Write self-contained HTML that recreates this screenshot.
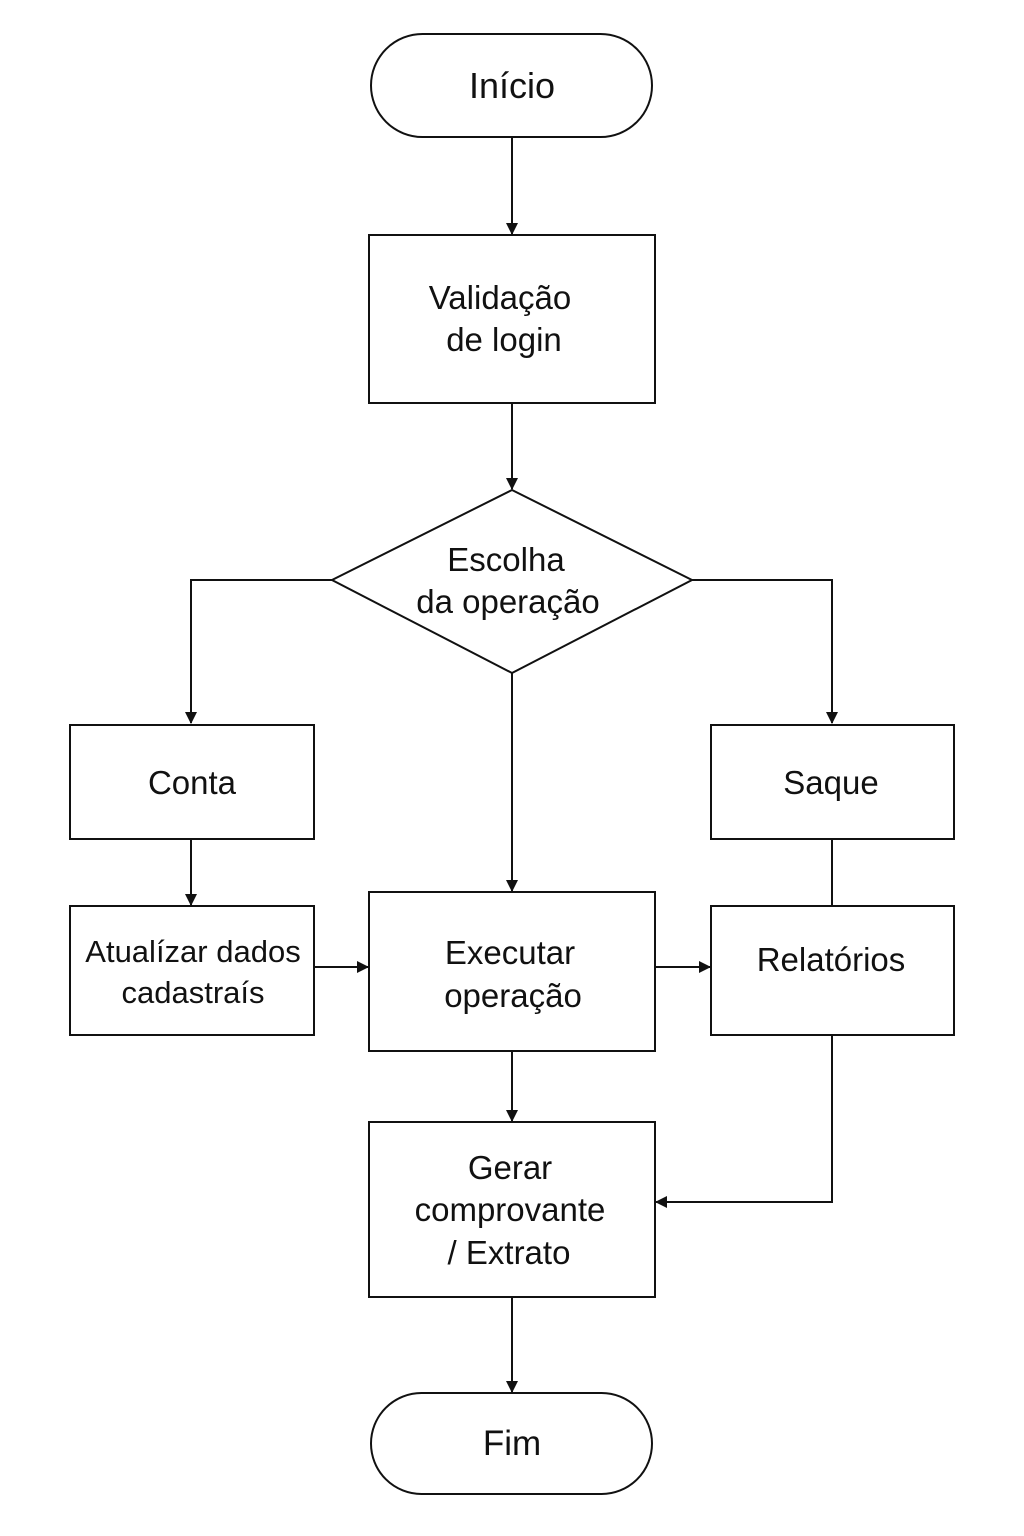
<!DOCTYPE html>
<html><head><meta charset="utf-8"><style>
html,body{margin:0;padding:0;background:#fff;}
svg{display:block;}
text{font-family:"Liberation Sans","DejaVu Sans",sans-serif;fill:#111;text-anchor:middle;}
</style></head><body>
<svg width="1024" height="1536" viewBox="0 0 1024 1536" xmlns="http://www.w3.org/2000/svg">
<defs><marker id="a" markerWidth="12" markerHeight="12" refX="11" refY="6" orient="auto" markerUnits="userSpaceOnUse"><path d="M0,0 L12,6 L0,12 z" fill="#111"/></marker></defs>
<g fill="none" stroke="#111" stroke-width="2">
<rect x="371" y="34" width="281" height="103" rx="51.5"/>
<rect x="369" y="235" width="286" height="168"/>
<polygon points="512,490 692,580 512,673 332,580"/>
<rect x="70" y="725" width="244" height="114"/>
<rect x="711" y="725" width="243" height="114"/>
<rect x="70" y="906" width="244" height="129"/>
<rect x="369" y="892" width="286" height="159"/>
<rect x="711" y="906" width="243" height="129"/>
<rect x="369" y="1122" width="286" height="175"/>
<rect x="371" y="1393" width="281" height="101" rx="50.5"/>
<g marker-end="url(#a)">
<line x1="512" y1="137" x2="512" y2="234"/>
<line x1="512" y1="403" x2="512" y2="489"/>
<polyline points="332,580 191,580 191,723"/>
<polyline points="692,580 832,580 832,723"/>
<line x1="191" y1="839" x2="191" y2="905"/>
<line x1="512" y1="673" x2="512" y2="891"/>
<line x1="314" y1="967" x2="368" y2="967"/>
<line x1="655" y1="967" x2="710" y2="967"/>
<line x1="512" y1="1051" x2="512" y2="1121"/>
<polyline points="832,1035 832,1202 656,1202"/>
<line x1="512" y1="1297" x2="512" y2="1392"/>
</g>
<line x1="832" y1="839" x2="832" y2="906"/>
</g>
<g font-size="33">
<text x="512" y="98" font-size="36">Início</text>
<text x="500" y="309">Validação</text>
<text x="504" y="351">de login</text>
<text x="506" y="571">Escolha</text>
<text x="508" y="613">da operação</text>
<text x="192" y="794">Conta</text>
<text x="831" y="794">Saque</text>
<text x="193" y="962" font-size="31">Atualízar dados</text>
<text x="193" y="1003" font-size="31">cadastraís</text>
<text x="510" y="964">Executar</text>
<text x="513" y="1007">operação</text>
<text x="831" y="971">Relatórios</text>
<text x="510" y="1179">Gerar</text>
<text x="510" y="1221">comprovante</text>
<text x="509" y="1264">/ Extrato</text>
<text x="512" y="1455" font-size="35">Fim</text>
</g>
</svg>
</body></html>
